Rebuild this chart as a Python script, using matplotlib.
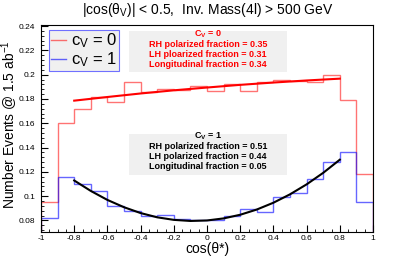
import numpy as np
import matplotlib
matplotlib.use('Agg')
import matplotlib.pyplot as plt
from matplotlib.patches import Rectangle
from matplotlib.lines import Line2D

plt.rcParams['font.family'] = ['Liberation Sans', 'DejaVu Sans']
plt.rcParams['mathtext.fontset'] = 'custom'
plt.rcParams['mathtext.rm'] = 'Liberation Sans'
plt.rcParams['mathtext.it'] = 'Liberation Sans'
plt.rcParams['mathtext.bf'] = 'Liberation Sans:bold'
plt.rcParams['mathtext.default'] = 'regular'

# Bordes de los bins en cos(theta*)
bin_edges = np.round(np.arange(-1.0, 1.01, 0.1), 2)

# Histogramas (cV = 0 en rojo, cV = 1 en azul)
hist_cv0 = [0.0952, 0.160, 0.172, 0.182, 0.1777, 0.1942, 0.1859, 0.1884, 0.1873, 0.1909,
            0.1865, 0.1923, 0.1865, 0.1939, 0.1953, 0.1950, 0.1942, 0.1994, 0.1791, 0.1183]
hist_cv1 = [0.0818, 0.1160, 0.1098, 0.1043, 0.0917, 0.0875, 0.0837, 0.0843, 0.0815, 0.0800,
            0.0804, 0.0837, 0.0895, 0.0870, 0.0996, 0.1024, 0.1144, 0.1284, 0.1361, 0.0950]

# Curvas de ajuste
fit_x_cv0 = [-0.8, -0.6, -0.4, -0.2, 0.0, 0.2, 0.4, 0.6, 0.8]
fit_y_cv0 = [0.1786, 0.1816, 0.1845, 0.1871, 0.1894, 0.1916, 0.1935, 0.1952, 0.1967]
fit_x_cv1 = [-0.8, -0.7, -0.6, -0.5, -0.4, -0.3, -0.2, -0.1, 0.0,
             0.1, 0.2, 0.3, 0.4, 0.5, 0.6, 0.7, 0.8]
fit_y_cv1 = [0.1129, 0.1043, 0.0969, 0.0909, 0.0861, 0.0826, 0.0805, 0.0796, 0.0800,
             0.0817, 0.0847, 0.0890, 0.0946, 0.1015, 0.1097, 0.1192, 0.1300]

# Ticks
x_ticks = [-1, -0.8, -0.6, -0.4, -0.2, 0, 0.2, 0.4, 0.6, 0.8, 1]
x_tick_labels = ['-1', '-0.8', '-0.6', '-0.4', '-0.2', '0', '0.2', '0.4', '0.6', '0.8', '1']
y_ticks = [0.08, 0.10, 0.12, 0.14, 0.16, 0.18, 0.20, 0.22, 0.24]
y_tick_labels = ['0.08', '0.1', '0.12', '0.14', '0.16', '0.18', '0.2', '0.22', '0.24']

# Textos de fracciones
text_cv0 = ['C$_V$ = 0', 'RH polarized fraction = 0.35',
            'LH ploarized fraction = 0.31', 'Longitudinal fraction = 0.34']
text_cv1 = ['C$_V$ = 1', 'RH polarized fraction = 0.51',
            'LH polarized fraction = 0.44', 'Longitudinal fraction = 0.05']

fig = plt.figure(figsize=(4.15, 2.59), dpi=100)
ax = fig.add_axes([0.0988, 0.1042, 0.80, 0.7981])

ax.stairs(hist_cv0, bin_edges, baseline=0, color='#ff0000', alpha=0.55, lw=1.0)
ax.stairs(hist_cv1, bin_edges, baseline=0, color='#0000ff', alpha=0.6, lw=1.0)
ax.plot(fit_x_cv0, fit_y_cv0, color='#ff0000', lw=1.5)
ax.plot(fit_x_cv1, fit_y_cv1, color='black', lw=1.5)

ax.set_xlim(-1, 1)
ax.set_ylim(0.0705, 0.2406)
ax.set_xticks(x_ticks)
ax.set_xticklabels(x_tick_labels)
ax.set_yticks(y_ticks)
ax.set_yticklabels(y_tick_labels)
ax.set_xticks(np.arange(-1, 1.001, 0.05), minor=True)
ax.set_yticks(np.arange(0.072, 0.2406, 0.004), minor=True)
ax.tick_params(which='both', direction='in', top=False, right=False, labelsize=6)
ax.tick_params(axis='x', which='major', length=5, pad=2.5)
ax.tick_params(axis='x', which='minor', length=2.5)
ax.tick_params(axis='y', which='major', length=5, pad=4)
ax.tick_params(axis='y', which='minor', length=2.5)
for s in ax.spines.values():
    s.set_linewidth(0.8)

ax.set_xlabel('cos(θ*)', fontsize=10, labelpad=0)
ax.set_ylabel('Number Events @ 1.5 ab$^{-1}$', fontsize=10)
ax.yaxis.set_label_coords(-0.062, 0.52)
fig.text(0.5, 0.96, '|cos(θ$_V$)| < 0.5,  Inv. Mass(4l) > 500 GeV',
         ha='center', va='center', fontsize=10)

# Cajas grises con las fracciones
ax.add_patch(Rectangle((0.265, 0.774), 0.476, 0.198, transform=ax.transAxes,
                       facecolor='#f0f0f0', edgecolor='none', zorder=3))
ax.add_patch(Rectangle((0.265, 0.276), 0.476, 0.198, transform=ax.transAxes,
                       facecolor='#f0f0f0', edgecolor='none', zorder=3))
for i, t in enumerate(text_cv0):
    ax.text(0.503, 0.956 - i * 0.049, t, transform=ax.transAxes, ha='center', va='center',
            color='#ff0000', fontsize=6.5, fontweight='bold', zorder=4)
for i, t in enumerate(text_cv1):
    ax.text(0.503, 0.463 - i * 0.049, t, transform=ax.transAxes, ha='center', va='center',
            color='black', fontsize=6.5, fontweight='bold', zorder=4)

# Leyenda
handles = [Line2D([], [], color='#ff0000', alpha=0.55, lw=1.0),
           Line2D([], [], color='#0000ff', alpha=0.6, lw=1.0)]
leg = ax.legend(handles, ['c$_V$ = 0', 'c$_V$ = 1'], loc='upper left',
                bbox_to_anchor=(0.024, 0.977), fontsize=12, frameon=True, fancybox=False,
                handlelength=0.9, handletextpad=0.3, borderpad=0.1, labelspacing=0.0,
                borderaxespad=0)
leg.get_frame().set_edgecolor('#7070ff')
leg.get_frame().set_facecolor('#f0f0f0')
leg.get_frame().set_alpha(1)
leg.get_frame().set_linewidth(0.8)
leg.set_zorder(5)

fig.savefig('out.png', dpi=100)
